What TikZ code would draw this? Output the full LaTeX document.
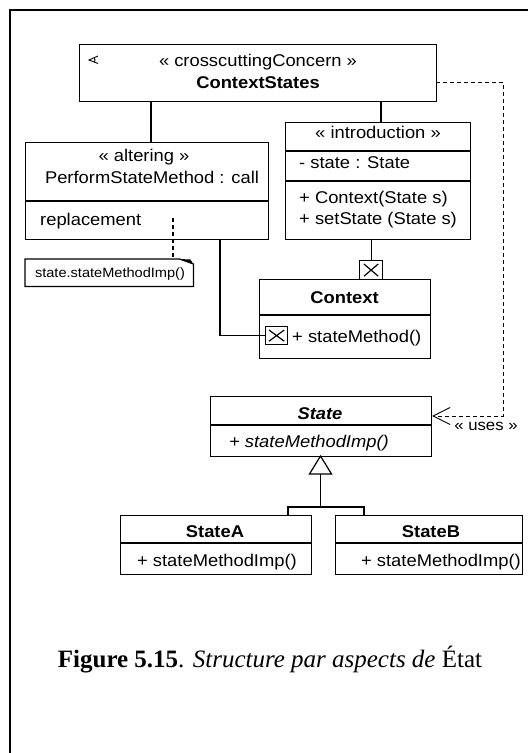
\documentclass[tikz,border=0pt]{standalone}
\usepackage{fontspec}
\setmainfont{Liberation Serif}
\newfontfamily\uml[FakeStretch=1.08]{Liberation Sans}
\usetikzlibrary{arrows.meta,calc}
\begin{document}
\begin{tikzpicture}[x=1pt,y=-1pt,
  box/.style={draw,line width=1.2pt,inner sep=0pt,anchor=north west},
  conn/.style={line width=1.2pt},
  dep/.style={line width=0.9pt,dash pattern=on 4pt off 3pt},
  txt/.style={inner sep=0pt,anchor=base,font=\uml\fontsize{17}{20}\selectfont},
  ltxt/.style={txt,anchor=base west},
  small/.style={inner sep=0pt,anchor=base,font=\uml\fontsize{13.5}{16}\selectfont},
  mid/.style={inner sep=0pt,anchor=base,font=\uml\fontsize{15.5}{18}\selectfont}]
\useasboundingbox (0,0) rectangle (528,753);
% frame
\draw[line width=2.2pt] (10,753) -- (10,10) -- (528,10);

% ContextStates
\node[box,minimum width=357pt,minimum height=57pt] (cs) at (79,44) {};
\node[txt] (csst) at (258,66) {« crosscuttingConcern »};
\node[txt,font=\uml\bfseries\fontsize{17}{20}\selectfont] (csname) at (258,88) {ContextStates};
\coordinate (csicon) at (89,60);
\draw[line width=0.9pt] ($(csicon)+(9,-4)$) -- (csicon) -- ($(csicon)+(9,3.5)$);
\draw[line width=0.9pt] ($(csicon)+(5.2,-2.4)$) .. controls ($(csicon)+(6.3,-0.6)$) and ($(csicon)+(6.3,0.6)$) .. ($(csicon)+(5.2,2.1)$);

% altering
\node[box,minimum width=243pt,minimum height=97pt] (alt) at (25,142) {};
\draw[conn] (alt.west |- 0,201) -- (alt.east |- 0,201);
\node[txt] (altst) at (144,161) {« altering »};
\node[txt] (altname) at (152,183) {PerformStateMethod : call};
\node[ltxt] (altrep) at (40,225) {replacement};

% introduction
\node[box,minimum width=185pt,minimum height=117pt] (intro) at (285,122) {};
\draw[conn] (intro.west |- 0,151) -- (intro.east |- 0,151);
\draw[conn] (intro.west |- 0,181) -- (intro.east |- 0,181);
\node[txt] (introst) at (378,138) {« introduction »};
\node[ltxt] (introattr) at (299,168) {- state : State};
\node[ltxt] (introop1) at (299,203) {+ Context(State s)};
\node[ltxt] (introop2) at (299,224) {+ setState (State s)};

% note
\node[inner sep=0pt,minimum width=168pt,minimum height=27pt,anchor=north west] (note) at (25,259) {};
\draw[line width=1.2pt] (note.north west) -- ($(note.north east)+(-14,0)$) -- ($(note.north east)+(0,5)$) -- (note.south east) -- (note.south west) -- cycle;
\fill ($(note.north east)+(-14,0)$) -- ($(note.north east)+(0,5)$) -- ($(note.north east)+(-3,0.5)$) -- cycle;
\node[small] (notetxt) at (110,277) {state.stateMethodImp()};
\coordinate (noteanchor) at (173,218);
\draw[dep,line width=1.2pt] (noteanchor) -- (noteanchor |- note.north);

% Context
\node[box,minimum width=23pt,minimum height=19pt] (xtop) at (359,260) {};
\draw[line width=1.2pt] ($(xtop.north west)+(5,4)$) -- ($(xtop.south east)+(-5,-4)$)
  ($(xtop.north east)+(-5,4)$) -- ($(xtop.south west)+(5,-4)$);
\node[box,minimum width=171pt,minimum height=79pt] (ctx) at (259,279) {};
\draw[conn] (ctx.west |- 0,315) -- (ctx.east |- 0,315);
\node[txt,font=\uml\bfseries\fontsize{17}{20}\selectfont] (ctxname) at (344.5,303) {Context};
\node[box,minimum width=22pt,minimum height=18pt] (xop) at (265,326) {};
\draw[line width=1.2pt] ($(xop.north west)+(4,4)$) -- ($(xop.south east)+(-4,-4)$)
  ($(xop.north east)+(-4,4)$) -- ($(xop.south west)+(4,-4)$);
\node[ltxt] (ctxop) at (292,342) {+ stateMethod()};

% State
\node[box,minimum width=221pt,minimum height=60pt] (state) at (210,396) {};
\draw[conn] (state.west |- 0,425) -- (state.east |- 0,425);
\node[txt,font=\uml\bfseries\itshape\fontsize{17}{20}\selectfont] (statename) at (320,419) {State};
\node[txt,font=\uml\itshape\fontsize{17}{20}\selectfont] (stateop) at (309,447) {+ stateMethodImp()};

% StateA, StateB
\node[box,minimum width=191pt,minimum height=59pt] (sa) at (120,515) {};
\draw[conn] (sa.west |- 0,543) -- (sa.east |- 0,543);
\node[txt,font=\uml\bfseries\fontsize{17}{20}\selectfont] (saname) at (215,537) {StateA};
\node[txt] (saop) at (217,566) {+ stateMethodImp()};
\node[box,minimum width=187pt,minimum height=59pt] (sb) at (335,515) {};
\draw[conn] (sb.west |- 0,543) -- (sb.east |- 0,543);
\node[txt,font=\uml\bfseries\fontsize{17}{20}\selectfont] (sbname) at (431,537) {StateB};
\node[txt] (sbop) at (441,566) {+ stateMethodImp()};

% connectors
\coordinate (altx) at (151,0);
\coordinate (introx) at (381,0);
\draw[conn] (cs.south -| altx) -- (alt.north -| altx);
\draw[conn] (cs.south -| introx) -- (intro.north -| introx);
\draw[conn] (intro.south -| xtop.north) -- (xtop.north);
\coordinate (bend) at (220,0);
\draw[conn] (alt.south -| bend) -- (bend |- xop.west) -- (xop.west);

% uses dependency
\coordinate (csout) at (436,82);
\coordinate (usesx) at (503,0);
\draw[dep,-{Straight Barb[length=17pt,width=17pt,line width=0.9pt]}]
  (csout) -- (usesx |- csout) -- (usesx |- 0,416) -- (state.east |- 0,416);
\node[mid] (uses) at (486,430) {« uses »};

% generalization
\coordinate (gtip) at (320.5,456);
\coordinate (gbase) at (320.5,474);
\coordinate (gjoin) at (320.5,507);
\draw[conn,line join=miter] (gtip) -- (309.5,474) -- (331.5,474) -- cycle;
\draw[conn] (gbase) -- (gjoin);
\draw[conn] (sa.north -| 288,0) -- (288,507) -- (364,507) -- (sb.north -| 364,0);

% caption
\node[inner sep=0pt,anchor=base] (caption) at (270,667)
  {\fontsize{25}{30}\selectfont\textbf{Figure 5.15}. \textit{Structure par aspects de} État};
\end{tikzpicture}
\end{document}
